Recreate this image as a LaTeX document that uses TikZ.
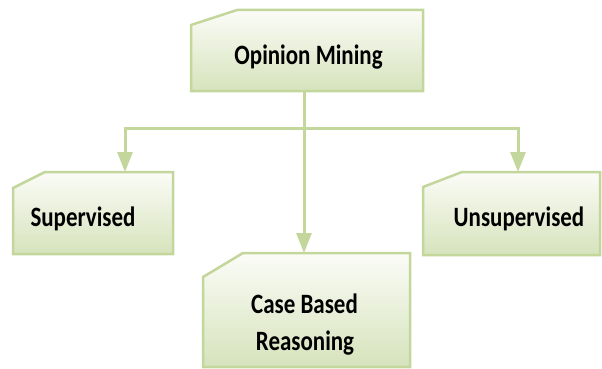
\documentclass[tikz,border=0pt]{standalone}
\usepackage{fontspec}
\newfontfamily\boxfont{Carlito}[FakeStretch=0.82]
\usetikzlibrary{arrows.meta,backgrounds}

\definecolor{edgegreen}{RGB}{195,214,155}
\definecolor{filltop}{RGB}{251,252,247}
\definecolor{fillbot}{RGB}{214,227,188}

\tikzset{
  boxarea/.style={rectangle, inner sep=0pt, outer sep=0pt},
  boxshape/.style={draw=edgegreen, line width=2.5pt, top color=filltop, bottom color=fillbot},
  boxtext/.style={font=\boxfont\bfseries\fontsize{28}{34}\selectfont, text=black, anchor=base, inner sep=0pt},
  link/.style={draw=edgegreen, line width=3pt},
  arr/.style={link, -{Triangle[length=20pt,width=15pt]}}
}

% a box whose top-left corner is cut off: #1 = node, #2 = horizontal cut, #3 = vertical cut
\newcommand{\cutbox}[3]{%
  \path[boxshape] ([yshift=-#3]#1.north west) -- ([xshift=#2]#1.north west)
    -- (#1.north east) -- (#1.south east) -- (#1.south west) -- cycle;}

\begin{document}
\begin{tikzpicture}[x=1pt,y=-1pt]
  \useasboundingbox (0,0) rectangle (602,369);

  % box areas
  \node[boxarea, minimum width=232pt, minimum height=81pt] (om)  at (307,50.5) {};
  \node[boxarea, minimum width=160pt, minimum height=82pt] (sup) at (93,213) {};
  \node[boxarea, minimum width=207pt, minimum height=114pt] (cbr) at (306.5,310) {};
  \node[boxarea, minimum width=177pt, minimum height=83pt] (uns) at (511.5,213.5) {};

  \begin{scope}[on background layer]
    \cutbox{om}{46pt}{15pt}
    \cutbox{sup}{32pt}{16pt}
    \cutbox{cbr}{40pt}{24pt}
    \cutbox{uns}{39pt}{15pt}
  \end{scope}

  % labels
  \node[boxtext] (omt)  at (308.5,64)  {Opinion Mining};
  \node[boxtext] (supt) at (83,226)    {Supervised};
  \node[boxtext] (unst) at (519,226)   {Unsupervised};
  \node[boxtext] (cbt1) at (304.5,313) {Case Based};
  \node[boxtext] (cbt2) at (305,350)   {Reasoning};

  % connectors
  \coordinate (fork) at (om.south |- 0,128);
  \draw[arr] (om.south -| 304,0) -- (cbr.north -| 304,0);
  \draw[arr] (fork) -| ([xshift=32pt]sup.north);
  \draw[arr] (fork) -| ([xshift=6.5pt]uns.north);
\end{tikzpicture}
\end{document}
